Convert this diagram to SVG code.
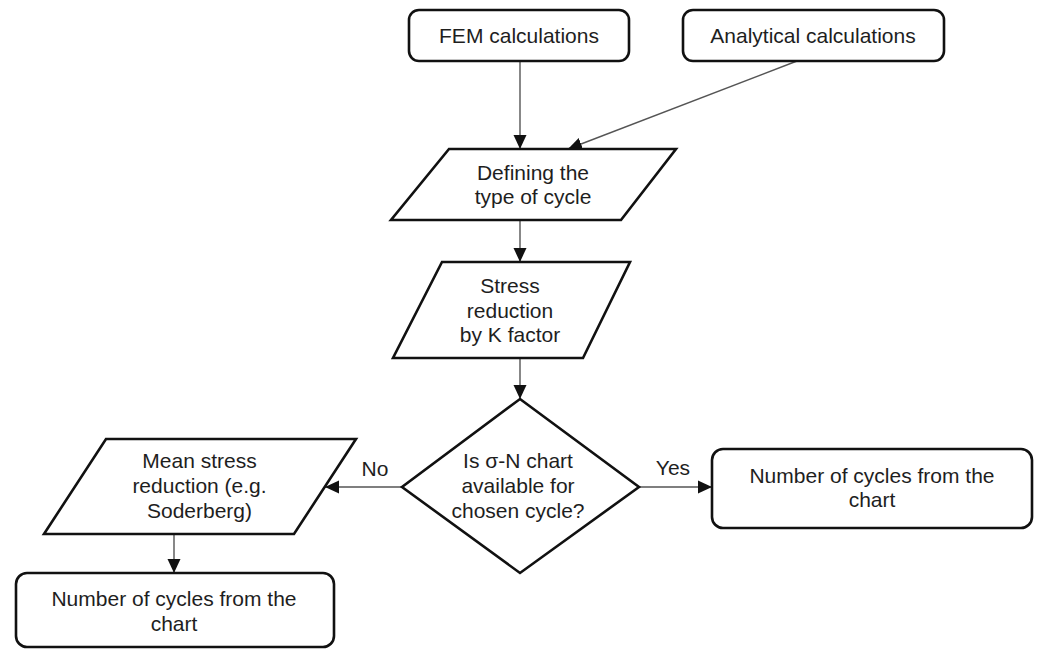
<svg xmlns="http://www.w3.org/2000/svg" width="1038" height="649" viewBox="0 0 1038 649">
  <style>
    .shape { fill: #ffffff; stroke: #111111; stroke-width: 2.6; stroke-linejoin: miter; }
    .box { fill: #ffffff; stroke: #111111; stroke-width: 2.6; }
    .label { font-family: "Liberation Sans", Arial, sans-serif; font-size: 21px; fill: #1e1e1e; text-anchor: middle; }
    .conn { fill: none; stroke: #555555; stroke-width: 1.4; }
  </style>
  <defs>
    <marker id="arrow" markerUnits="userSpaceOnUse" markerWidth="14" markerHeight="14" viewBox="0 0 14 14" refX="14" refY="7" orient="auto">
      <path d="M0,0.5 L14,7 L0,13.5 Z" fill="#111111"/>
    </marker>
  </defs>
  <rect width="1038" height="649" fill="#ffffff"/>

  <g id="connectors">
    <line class="conn" x1="520" y1="61" x2="520" y2="149" marker-end="url(#arrow)"/>
    <line class="conn" x1="797" y1="61" x2="568" y2="149" marker-end="url(#arrow)"/>
    <line class="conn" x1="520" y1="220" x2="520" y2="262" marker-end="url(#arrow)"/>
    <line class="conn" x1="520" y1="358" x2="520" y2="399" marker-end="url(#arrow)"/>
    <line class="conn" x1="639" y1="487" x2="712" y2="487" marker-end="url(#arrow)"/>
    <line class="conn" x1="402" y1="487" x2="325" y2="487" marker-end="url(#arrow)"/>
    <line class="conn" x1="174" y1="534" x2="174" y2="573" marker-end="url(#arrow)"/>
    <text class="label" x="673" y="475">Yes</text>
    <text class="label" x="375" y="476">No</text>
  </g>

  <g id="fem">
    <rect class="box" x="409" y="10" width="220" height="51" rx="10"/>
    <text class="label" x="519" y="43">FEM calculations</text>
  </g>

  <g id="analytical">
    <rect class="box" x="683" y="10" width="261" height="51" rx="10"/>
    <text class="label" x="813" y="43">Analytical calculations</text>
  </g>

  <g id="defining">
    <polygon class="shape" points="449,149 676,149 621,220 391,220"/>
    <text class="label" x="533" y="180">Defining the</text>
    <text class="label" x="533" y="204">type of cycle</text>
  </g>

  <g id="stress">
    <polygon class="shape" points="442,262 630,262 583,358 393,358"/>
    <text class="label" x="510" y="293">Stress</text>
    <text class="label" x="510" y="317.5">reduction</text>
    <text class="label" x="510" y="342">by K factor</text>
  </g>

  <g id="decision">
    <polygon class="shape" points="520,399 639,487 520,573 402,487"/>
    <text class="label" x="518" y="468">Is σ-N chart</text>
    <text class="label" x="518" y="493">available for</text>
    <text class="label" x="518" y="518">chosen cycle?</text>
  </g>

  <g id="cycles-yes">
    <rect class="box" x="712" y="449" width="320" height="79" rx="11"/>
    <text class="label" x="872" y="483">Number of cycles from the</text>
    <text class="label" x="872" y="507">chart</text>
  </g>

  <g id="mean-stress">
    <polygon class="shape" points="106,439 356,439 294,534 44,534"/>
    <text class="label" x="199.5" y="468">Mean stress</text>
    <text class="label" x="199.5" y="493">reduction (e.g.</text>
    <text class="label" x="199.5" y="518">Soderberg)</text>
  </g>

  <g id="cycles-no">
    <rect class="box" x="16" y="573" width="318" height="74" rx="11"/>
    <text class="label" x="174" y="606">Number of cycles from the</text>
    <text class="label" x="174" y="631">chart</text>
  </g>
</svg>
